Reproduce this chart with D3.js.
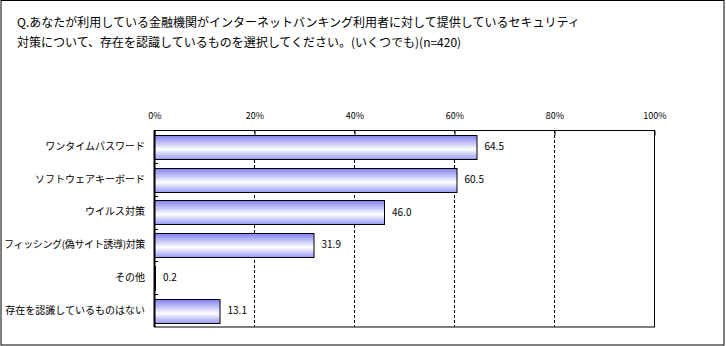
<!DOCTYPE html>
<html><head><meta charset="utf-8">
<script src="https://cdn.jsdelivr.net/npm/d3@7"></script>
<style>body{margin:0;background:#fff}svg{display:block}</style>
</head><body>
<script>
const titleLines = [
  "Q.あなたが利用している金融機関がインターネットバンキング利用者に対して提供しているセキュリティ",
  "対策について、存在を認識しているものを選択してください。(いくつでも)(n=420)"
];
const categories = ["ワンタイムパスワード","ソフトウェアキーボード","ウイルス対策","フィッシング(偽サイト誘導)対策","その他","存在を認識しているものはない"];
const values = [64.5, 60.5, 46.0, 31.9, 0.2, 13.1];
const tickValues = [0, 20, 40, 60, 80, 100];

const W = 726, H = 346;
const svg = d3.select("body").append("svg").attr("width", W).attr("height", H);
const font = "'Noto Sans CJK JP', 'Noto Sans', sans-serif";

const defs = svg.append("defs");
const grad = defs.append("linearGradient").attr("id","barGrad").attr("x1",0).attr("y1",0).attr("x2",0).attr("y2",1);
grad.append("stop").attr("offset","0%").attr("stop-color","#8080ee");
grad.append("stop").attr("offset","58%").attr("stop-color","#ffffff");
grad.append("stop").attr("offset","100%").attr("stop-color","#9696f4");

svg.append("rect").attr("x",1).attr("y",0.5).attr("width",723).attr("height",344.5)
  .attr("fill","#fff").attr("stroke","#000").attr("stroke-width",1);

svg.append("g").selectAll("text").data(titleLines).join("text")
  .attr("x",17).attr("y",(d,i)=>27+i*20)
  .attr("font-family",font).attr("font-size",12).attr("fill","#000").text(d=>d);

const x = d3.scaleLinear().domain([0,100]).range([154,654]);
const y = d3.scaleBand().domain(categories).range([130,327]).paddingInner(0.28).paddingOuter(0.15);

// gridlines
svg.append("g").selectAll("line").data(tickValues.filter(v=>v>0&&v<100)).join("line")
  .attr("x1",d=>Math.round(x(d))+0.5).attr("x2",d=>Math.round(x(d))+0.5)
  .attr("y1",130).attr("y2",327)
  .attr("stroke","#000").attr("stroke-dasharray","3,2");

// bars
svg.append("g").selectAll("rect").data(categories).join("rect")
  .attr("x",x(0)+0.5).attr("y",d=>Math.round(y(d))+0.5)
  .attr("width",(d,i)=>Math.max(1, x(values[i])-x(0)))
  .attr("height",Math.round(y.bandwidth()))
  .attr("fill",(d,i)=>values[i]<1?"#000":"url(#barGrad)")
  .attr("stroke","#000").attr("stroke-width",1);

// value labels
svg.append("g").selectAll("text").data(categories).join("text")
  .attr("x",(d,i)=>x(values[i])+8).attr("y",d=>y(d)+y.bandwidth()/2)
  .attr("dy","0.35em").attr("font-family",font).attr("font-size",10).attr("fill","#000")
  .text((d,i)=>values[i].toFixed(1));

// plot frame
svg.append("rect").attr("x",154.5).attr("y",130.5).attr("width",500).attr("height",196.5)
  .attr("fill","none").attr("stroke","#000");

// top axis
const topAxis = d3.axisTop(x).tickValues(tickValues).tickSize(-5).tickFormat(d=>d+"%");
const gTop = svg.append("g").attr("transform","translate(0.5,130.5)").call(topAxis);
gTop.select(".domain").remove();
gTop.selectAll("text").attr("y",-12).attr("font-family",font).attr("font-size",9).attr("fill","#000");
gTop.selectAll("line").attr("stroke","#000");

// left axis
const leftAxis = d3.axisLeft(y).tickSize(0).tickPadding(9);
const gLeft = svg.append("g").attr("transform","translate(154,0)").call(leftAxis);
gLeft.select(".domain").remove();
gLeft.selectAll("text").attr("font-family",font).attr("font-size",10).attr("fill","#000")
  .attr("letter-spacing",d=>d.length>15?"-0.35px":null);
// band separators
const bounds = categories.slice(1).map(c => y(c) - y.step()*y.paddingInner()/2);
svg.append("g").selectAll("line").data(bounds).join("line")
  .attr("x1",154).attr("x2",158).attr("y1",d=>Math.round(d)+0.5).attr("y2",d=>Math.round(d)+0.5)
  .attr("stroke","#000");
svg.append("line").attr("x1",154.5).attr("x2",154.5).attr("y1",130).attr("y2",327).attr("stroke","#000").attr("stroke-width",2);
</script>
</body></html>
